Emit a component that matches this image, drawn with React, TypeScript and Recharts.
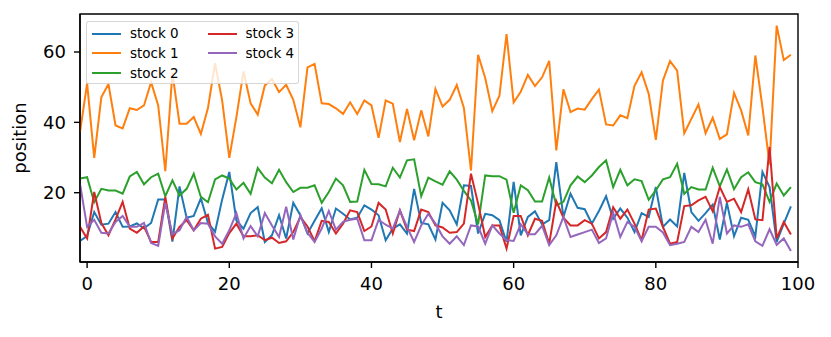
import { Line, LineChart, ReferenceArea, XAxis, YAxis } from "recharts";

const FONT = "'DejaVu Sans', sans-serif";

const SERIES_NAMES = ["stock 0", "stock 1", "stock 2", "stock 3", "stock 4"];
const SERIES_COLORS = ["#1f77b4", "#ff7f0e", "#2ca02c", "#d62728", "#9467bd"];

const X_TICKS = [0, 20, 40, 60, 80, 100];
const Y_TICKS = [20, 40, 60];

// t = -1 .. 99
const STOCK_0 = [
  6.3, 7.7, 14.5, 10.9, 11.2, 14.5, 10.3, 10.4, 11.3, 9.9, 11.4, 18.1, 18.1, 6.1, 21.8, 12.9, 13.4, 18.4, 11.4, 8.9, 18.1, 25.9,
  12.1, 9.8, 14.2, 15.9, 6.0, 7.9, 13.6, 7.0, 17.1, 13.6, 8.4, 12.0, 15.6, 8.8, 15.5, 14.0, 12.4, 12.9, 16.4, 15.2,
  13.6, 6.5, 9.8, 11.0, 8.4, 21.1, 11.4, 11.0, 6.7, 17.1, 15.0, 11.0, 22.1, 21.9, 8.4, 14.0, 13.6, 12.2, 6.0, 23.1,
  7.9, 13.1, 14.7, 11.0, 12.2, 28.7, 13.1, 19.7, 15.7, 15.3, 11.2, 14.8, 19.0, 12.6, 15.5, 12.9, 8.8, 14.2, 13.1, 21.6,
  10.3, 12.4, 10.4, 25.6, 14.5, 12.0, 14.2, 16.6, 6.7, 17.1, 7.6, 12.9, 12.3, 7.6, 25.9, 21.6, 6.0, 11.2, 16.1,
];
const STOCK_1 = [
  37.2, 51.1, 29.9, 47.1, 50.9, 39.1, 38.3, 44.0, 43.5, 44.8, 51.4, 44.8, 26.1, 54.0, 39.6, 39.6, 41.5, 36.7, 44.1, 56.8, 46.2, 29.9,
  41.5, 54.5, 45.4, 42.2, 50.5, 52.3, 48.6, 50.7, 46.4, 38.6, 55.6, 56.6, 45.4, 45.2, 44.0, 42.4, 45.7, 42.4, 46.2, 44.8,
  35.6, 46.2, 45.3, 34.4, 43.8, 34.9, 43.4, 36.0, 49.5, 44.5, 46.4, 50.6, 44.1, 26.3, 59.2, 52.6, 43.2, 47.6, 65.1, 45.7,
  48.7, 53.5, 50.3, 52.8, 57.5, 32.0, 49.4, 42.9, 43.9, 43.6, 46.6, 49.3, 39.4, 39.1, 42.0, 41.2, 50.4, 54.2, 48.1, 35.0,
  51.9, 57.4, 54.7, 36.9, 41.0, 45.1, 36.9, 41.3, 35.3, 36.6, 48.4, 43.4, 36.3, 59.0, 44.3, 28.0, 67.5, 57.7, 59.2,
];
const STOCK_2 = [
  24.0, 24.4, 17.3, 21.1, 20.6, 20.6, 19.7, 24.6, 25.9, 22.4, 24.4, 25.4, 19.0, 23.5, 19.2, 21.1, 25.4, 18.8, 17.3, 23.8, 24.9, 24.0,
  20.9, 22.8, 19.7, 27.0, 24.3, 22.7, 26.5, 23.0, 20.2, 21.4, 21.4, 22.1, 17.1, 20.2, 24.0, 22.1, 17.4, 17.5, 26.5, 22.5,
  22.4, 21.8, 27.1, 24.3, 29.2, 29.5, 19.0, 24.3, 23.2, 22.3, 26.1, 23.7, 20.5, 17.8, 11.0, 24.9, 24.7, 24.7, 23.7, 14.3,
  22.1, 20.7, 17.5, 17.5, 24.3, 16.4, 17.4, 22.1, 24.6, 23.0, 24.9, 27.3, 29.2, 21.6, 26.5, 22.1, 23.8, 23.3, 18.0, 20.7,
  23.8, 24.4, 28.2, 19.7, 21.6, 20.9, 20.9, 27.1, 21.8, 26.6, 21.0, 24.4, 25.8, 23.0, 22.4, 17.4, 22.6, 19.2, 21.6,
];
const STOCK_3 = [
  10.3, 7.0, 20.2, 11.4, 7.9, 12.4, 17.4, 9.8, 8.6, 10.4, 6.0, 6.0, 18.8, 7.0, 10.3, 12.2, 9.3, 12.6, 13.7, 4.1, 4.6, 8.5,
  11.2, 7.6, 7.6, 7.9, 6.5, 7.2, 5.7, 6.2, 8.8, 13.1, 10.4, 6.2, 12.0, 11.7, 8.4, 11.2, 15.0, 14.5, 9.1, 10.4,
  17.1, 15.2, 8.4, 15.0, 9.5, 9.1, 15.2, 14.5, 10.7, 10.1, 8.6, 8.8, 11.2, 25.4, 16.9, 7.4, 10.7, 10.7, 4.1, 13.4,
  13.4, 7.9, 12.6, 12.0, 5.5, 17.6, 12.9, 10.7, 10.7, 12.2, 11.2, 7.0, 8.8, 15.9, 12.6, 15.2, 11.2, 6.5, 15.2, 15.5,
  10.3, 5.5, 6.0, 16.2, 16.4, 17.8, 18.8, 14.7, 21.6, 17.4, 18.3, 14.5, 21.0, 12.4, 12.2, 33.0, 7.0, 11.7, 8.1,
];
const STOCK_4 = [
  22.5, 10.3, 12.3, 8.6, 8.4, 11.7, 13.4, 10.3, 10.3, 11.4, 5.7, 4.9, 17.1, 8.2, 9.3, 13.1, 9.3, 11.4, 11.2, 7.6, 5.5, 9.3,
  14.2, 7.0, 10.5, 7.6, 14.2, 10.7, 7.4, 16.0, 6.7, 13.6, 8.6, 6.0, 9.8, 14.8, 9.5, 11.7, 12.3, 12.6, 6.5, 6.5,
  12.3, 10.9, 9.8, 15.0, 10.3, 6.0, 10.7, 14.0, 11.2, 7.6, 5.5, 7.6, 5.1, 10.7, 10.4, 5.5, 10.7, 8.4, 6.5, 6.3,
  11.0, 8.2, 8.2, 10.6, 5.1, 7.9, 13.1, 7.4, 8.1, 8.8, 9.5, 5.7, 7.0, 14.3, 7.4, 11.7, 10.3, 6.2, 10.3, 10.3,
  8.7, 5.1, 5.5, 6.0, 10.3, 8.8, 12.3, 5.5, 18.8, 8.4, 10.7, 10.3, 11.0, 6.2, 4.9, 9.6, 5.2, 7.0, 3.4,
];

const SERIES = [STOCK_0, STOCK_1, STOCK_2, STOCK_3, STOCK_4];

const data = STOCK_0.map((_, i) => {
  const row: Record<string, number> = { t: i - 1 };
  SERIES.forEach((s, k) => {
    row[`s${k}`] = s[i];
  });
  return row;
});

const tickStyle = { fontSize: 18, fill: "#000", fontFamily: FONT };

// legend rows/cols: [name index, column, row]
const LEGEND_LAYOUT = [
  [0, 0, 0],
  [1, 0, 1],
  [2, 0, 2],
  [3, 1, 0],
  [4, 1, 1],
];

function LegendBox() {
  return (
    <div
      style={{
        position: "absolute",
        left: 86,
        top: 21,
        width: 213,
        height: 63,
        boxSizing: "border-box",
        background: "rgba(255,255,255,0.8)",
        border: "1px solid rgba(204,204,204,0.8)",
        borderRadius: 3,
        fontFamily: FONT,
        fontSize: 13.5,
        color: "#000",
      }}
    >
      {LEGEND_LAYOUT.map(([idx, col, row]) => (
        <div key={idx}>
          <div
            style={{
              position: "absolute",
              left: 5 + col * 115.5,
              top: 10.5 + row * 19.8,
              width: 29,
              height: 2,
              background: SERIES_COLORS[idx],
            }}
          />
          <div
            style={{
              position: "absolute",
              left: 43 + col * 115.5,
              top: 1 + row * 19.8,
              lineHeight: "20px",
              whiteSpace: "nowrap",
            }}
          >
            {SERIES_NAMES[idx]}
          </div>
        </div>
      ))}
    </div>
  );
}

export default function App() {
  return (
    <div
      style={{
        position: "absolute",
        left: 0,
        top: 0,
        width: 831,
        height: 337,
        background: "#fff",
      }}
    >
      <LineChart
        width={831}
        height={337}
        data={data}
        margin={{ top: 14, right: 33, bottom: 0, left: 0 }}
      >
        <XAxis
          dataKey="t"
          type="number"
          domain={[-1, 100]}
          ticks={X_TICKS}
          allowDataOverflow
          height={75}
          tickSize={6}
          tickMargin={9}
          tick={tickStyle}
          stroke="#000"
          strokeWidth={1.4}
          interval={0}
          label={{
            value: "t",
            position: "insideBottom",
            offset: 19,
            fontSize: 18,
            fill: "#000",
            fontFamily: FONT,
          }}
        />
        <YAxis
          type="number"
          domain={[0.3, 70.8]}
          ticks={Y_TICKS}
          allowDataOverflow
          width={80}
          tickSize={6}
          tickMargin={8}
          tick={tickStyle}
          stroke="#000"
          strokeWidth={1.4}
          interval={0}
          label={{
            value: "position",
            angle: -90,
            position: "insideLeft",
            offset: 20,
            fontSize: 18,
            fill: "#000",
            fontFamily: FONT,
            style: { textAnchor: "middle" },
          }}
        />
        <ReferenceArea
          x1={-1}
          x2={100}
          y1={0.3}
          y2={70.8}
          fill="none"
          stroke="#000"
          strokeWidth={1.4}
          fillOpacity={0}
        />
        {SERIES_NAMES.map((name, k) => (
          <Line
            key={name}
            name={name}
            dataKey={`s${k}`}
            type="linear"
            stroke={SERIES_COLORS[k]}
            strokeWidth={2}
            dot={false}
            activeDot={false}
            isAnimationActive={false}
          />
        ))}
      </LineChart>
      <LegendBox />
    </div>
  );
}
